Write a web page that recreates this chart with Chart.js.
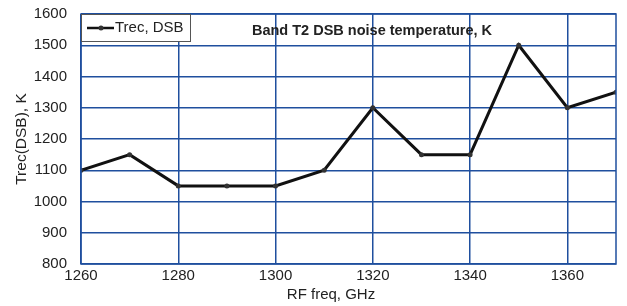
<!DOCTYPE html>
<html>
<head>
<meta charset="utf-8">
<script src="https://cdn.jsdelivr.net/npm/chart.js@4/dist/chart.umd.min.js"></script>
<style>
  html, body { margin: 0; padding: 0; background: #fff; }
  #wrap { width: 627px; height: 306px; }
</style>
</head>
<body>
<div id="wrap"><canvas id="chart"></canvas></div>
<script>
// RF frequency (GHz) and receiver noise temperature (K)
var freqs = [1260, 1270, 1280, 1290, 1300, 1310, 1320, 1330, 1340, 1350, 1360, 1370];
var trecDSB = [1100, 1150, 1050, 1050, 1050, 1100, 1300, 1150, 1150, 1500, 1300, 1350];
var xTicks = [1260, 1280, 1300, 1320, 1340, 1360];

var seriesLabel = "Trec, DSB";
var chartTitle = "Band T2 DSB noise temperature, K";
var xTitle = "RF freq, GHz";
var yTitle = "Trec(DSB), K";

var gridBlue = "#1f4f9e";
var textColor = "#222";
var fontFamily = "'Liberation Sans', Arial, sans-serif";

// frame, inline legend box, title and x axis title (sits left of centre)
var insidePlot = {
	id: "insidePlot",
	afterDraw: function (chart) {
		var ctx = chart.ctx;
		var a = chart.chartArea;
		ctx.save();
		ctx.strokeStyle = gridBlue;
		ctx.lineWidth = 1.5;
		ctx.strokeRect(a.left, a.top, a.right - a.left, a.bottom - a.top);

		// legend box
		var bx = a.left, by = a.top, bw = 109, bh = 27;
		ctx.fillStyle = "#fff";
		ctx.fillRect(bx, by, bw, bh);
		ctx.strokeStyle = "#555";
		ctx.lineWidth = 1;
		ctx.strokeRect(bx + 0.5, by + 0.5, bw, bh);
		ctx.strokeStyle = "#111";
		ctx.lineWidth = 2.5;
		ctx.beginPath();
		ctx.moveTo(bx + 6, by + 14);
		ctx.lineTo(bx + 33, by + 14);
		ctx.stroke();
		ctx.fillStyle = "#333";
		ctx.beginPath();
		ctx.arc(bx + 20, by + 14, 2.5, 0, Math.PI * 2);
		ctx.fill();
		ctx.fillStyle = textColor;
		ctx.font = "15px " + fontFamily;
		ctx.textBaseline = "middle";
		ctx.textAlign = "left";
		ctx.fillText(seriesLabel, bx + 34, by + 14);

		// title
		ctx.font = "bold 14.5px " + fontFamily;
		ctx.textAlign = "center";
		ctx.fillText(chartTitle, a.left + 291, a.top + 17);

		// x axis title
		ctx.font = "15px " + fontFamily;
		ctx.fillText(xTitle, a.left + 250, a.bottom + 31);
		ctx.restore();
	},
};

new Chart(document.getElementById("chart"), {
	type: "line",
	data: {
		datasets: [
			{
				label: seriesLabel,
				data: freqs.map(function (f, i) {
					return { x: f, y: trecDSB[i] };
				}),
				borderColor: "#111",
				backgroundColor: "#333",
				borderWidth: 3,
				pointRadius: 2.5,
				pointBorderWidth: 0,
				tension: 0,
				fill: false,
			},
		],
	},
	options: {
		responsive: true,
		maintainAspectRatio: false,
		animation: false,
		layout: { padding: { top: 14, right: 11, left: 0, bottom: 0 } },
		plugins: {
			legend: { display: false },
			title: { display: false },
			tooltip: { enabled: false },
		},
		scales: {
			x: {
				type: "linear",
				min: 1260,
				max: 1370,
				border: { display: false },
				grid: { color: gridBlue, lineWidth: 1.5, drawTicks: false },
				afterBuildTicks: function (axis) {
					axis.ticks = xTicks.map(function (v) {
						return { value: v };
					});
				},
				afterFit: function (axis) {
					axis.height = 42;
					axis.paddingLeft = 0;
					axis.paddingRight = 0;
				},
				ticks: {
					color: textColor,
					padding: 3,
					maxRotation: 0,
					font: { family: fontFamily, size: 15 },
					callback: function (v) {
						return String(v);
					},
				},
				title: { display: false },
			},
			y: {
				min: 800,
				max: 1600,
				border: { display: false },
				grid: { color: gridBlue, lineWidth: 1.5, drawTicks: false },
				afterFit: function (axis) {
					axis.width = 81;
					axis.paddingTop = 0;
					axis.paddingBottom = 0;
				},
				ticks: {
					stepSize: 100,
					color: textColor,
					padding: 14,
					font: { family: fontFamily, size: 15 },
					callback: function (v) {
						return String(v);
					},
				},
				title: {
					display: true,
					text: yTitle,
					color: textColor,
					padding: { top: 12, bottom: 0 },
					font: { family: fontFamily, size: 15.5 },
				},
			},
		},
	},
	plugins: [insidePlot],
});
</script>
</body>
</html>
